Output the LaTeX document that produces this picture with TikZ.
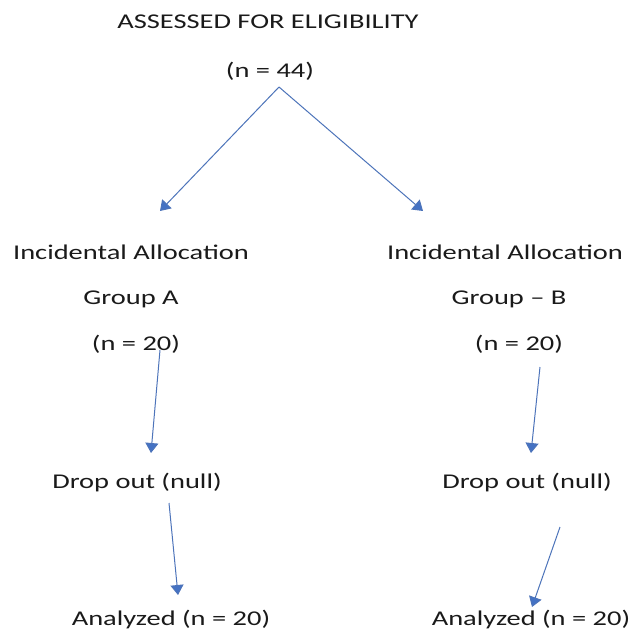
\documentclass[tikz,border=0pt]{standalone}
\usepackage{fontspec}
\setmainfont{Carlito}
\usetikzlibrary{arrows.meta}
\definecolor{arrowblue}{HTML}{4472C4}
\definecolor{txt}{HTML}{1A1A1A}
\newcommand{\widetxt}[1]{\scalebox{1.355}[1]{#1}}
\tikzset{
  lbl/.style={font=\fontsize{21}{23}\selectfont, text=txt, inner sep=0pt, anchor=center},
  flow/.style={draw=arrowblue!85!gray, line width=1pt, -{Triangle[length=10pt,width=13pt,fill=arrowblue]}}
}
\begin{document}
\begin{tikzpicture}[x=1pt,y=-1pt]
\useasboundingbox[fill=white] (0,0) rectangle (635,633);
\node[lbl] (title) at (268,22) {\widetxt{ASSESSED FOR ELIGIBILITY}};
\node[lbl] (n44) at (270,71) {\widetxt{(n = 44)}};
\node[lbl] (incA) at (131,252) {\widetxt{Incidental Allocation}};
\node[lbl] (incB) at (505,252) {\widetxt{Incidental Allocation}};
\node[lbl] (grpA) at (131,299) {\widetxt{Group A}};
\node[lbl] (grpB) at (509,299) {\widetxt{Group -- B}};
\node[lbl] (nA) at (136,344) {\widetxt{(n = 20)}};
\node[lbl] (nB) at (519,344) {\widetxt{(n = 20)}};
\node[lbl] (dropA) at (137,483) {\widetxt{Drop out (null)}};
\node[lbl] (dropB) at (527,483) {\widetxt{Drop out (null)}};
\node[lbl] (anaA) at (171,620) {\widetxt{Analyzed (n = 20)}};
\node[lbl] (anaB) at (531,620) {\widetxt{Analyzed (n = 20)}};
\coordinate (apex) at (279,87);
\coordinate (tipA) at (160,211);
\coordinate (tipB) at (423,211);
\coordinate (a1s) at (160,350);
\coordinate (a1e) at (151,453);
\coordinate (b1s) at (540,367);
\coordinate (b1e) at (531,453);
\coordinate (a2s) at (169,503);
\coordinate (a2e) at (178,595);
\coordinate (b2s) at (560,527);
\coordinate (b2e) at (532,607);
\draw[flow] (apex) -- (tipA);
\draw[flow] (apex) -- (tipB);
\draw[flow] (a1s) -- (a1e);
\draw[flow] (b1s) -- (b1e);
\draw[flow] (a2s) -- (a2e);
\draw[flow] (b2s) -- (b2e);
\end{tikzpicture}
\end{document}
